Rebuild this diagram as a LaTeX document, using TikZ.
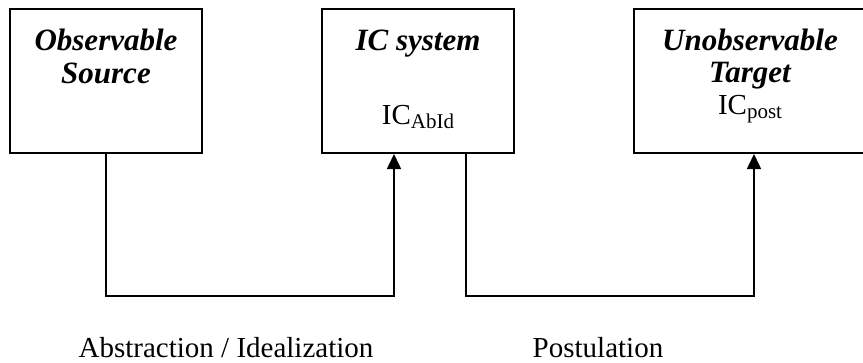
\documentclass[tikz,border=0pt]{standalone}
\usepackage{fontspec}
\setmainfont{Liberation Serif}
\usetikzlibrary{arrows.meta}
\begin{document}
\begin{tikzpicture}[x=1pt,y=-1pt,
  box/.style={draw, line width=2pt, rectangle, inner sep=0pt, minimum height=144pt},
  ttl/.style={font=\fontsize{31}{33}\selectfont\bfseries\itshape, anchor=base, inner sep=0pt},
  lbl/.style={font=\fontsize{29}{33}\selectfont, anchor=base, inner sep=0pt},
  conn/.style={line width=1.6pt},
  arr/.style={conn, -{Triangle[width=14pt,length=15pt]}}
]
\useasboundingbox (0,0) rectangle (863,362);
\node[box, minimum width=192pt] (src) at (106,81) {};
\node[box, minimum width=192pt] (ic) at (418,81) {};
\node[box, minimum width=240pt] (tgt) at (754,81) {};

\node[ttl] (t1) at (106,50) {Observable};
\node[ttl] (t2) at (106,83) {Source};
\node[ttl] (t3) at (418,50) {IC system};
\node[lbl] (t4) at (418,124) {IC\raisebox{-4pt}{\fontsize{21}{21}\selectfont AbId}};
\node[ttl] (t5) at (750,50) {Unobservable};
\node[ttl] (t6) at (750,82) {Target};
\node[lbl] (t7) at (750,114) {IC\raisebox{-4pt}{\fontsize{21}{21}\selectfont post}};

\coordinate (c1) at (106,296);
\coordinate (c2) at (394,296);
\coordinate (c3) at (466,296);
\coordinate (c4) at (754,296);
\draw[arr] (src.south) -- (c1) -- (c2) -- (c2 |- ic.south);
\draw[arr] (c3 |- ic.south) -- (c3) -- (c4) -- (c4 |- tgt.south);

\node[lbl] (l1) at (226,357) {Abstraction / Idealization};
\node[lbl] (l2) at (598,357) {Postulation};
\end{tikzpicture}
\end{document}
